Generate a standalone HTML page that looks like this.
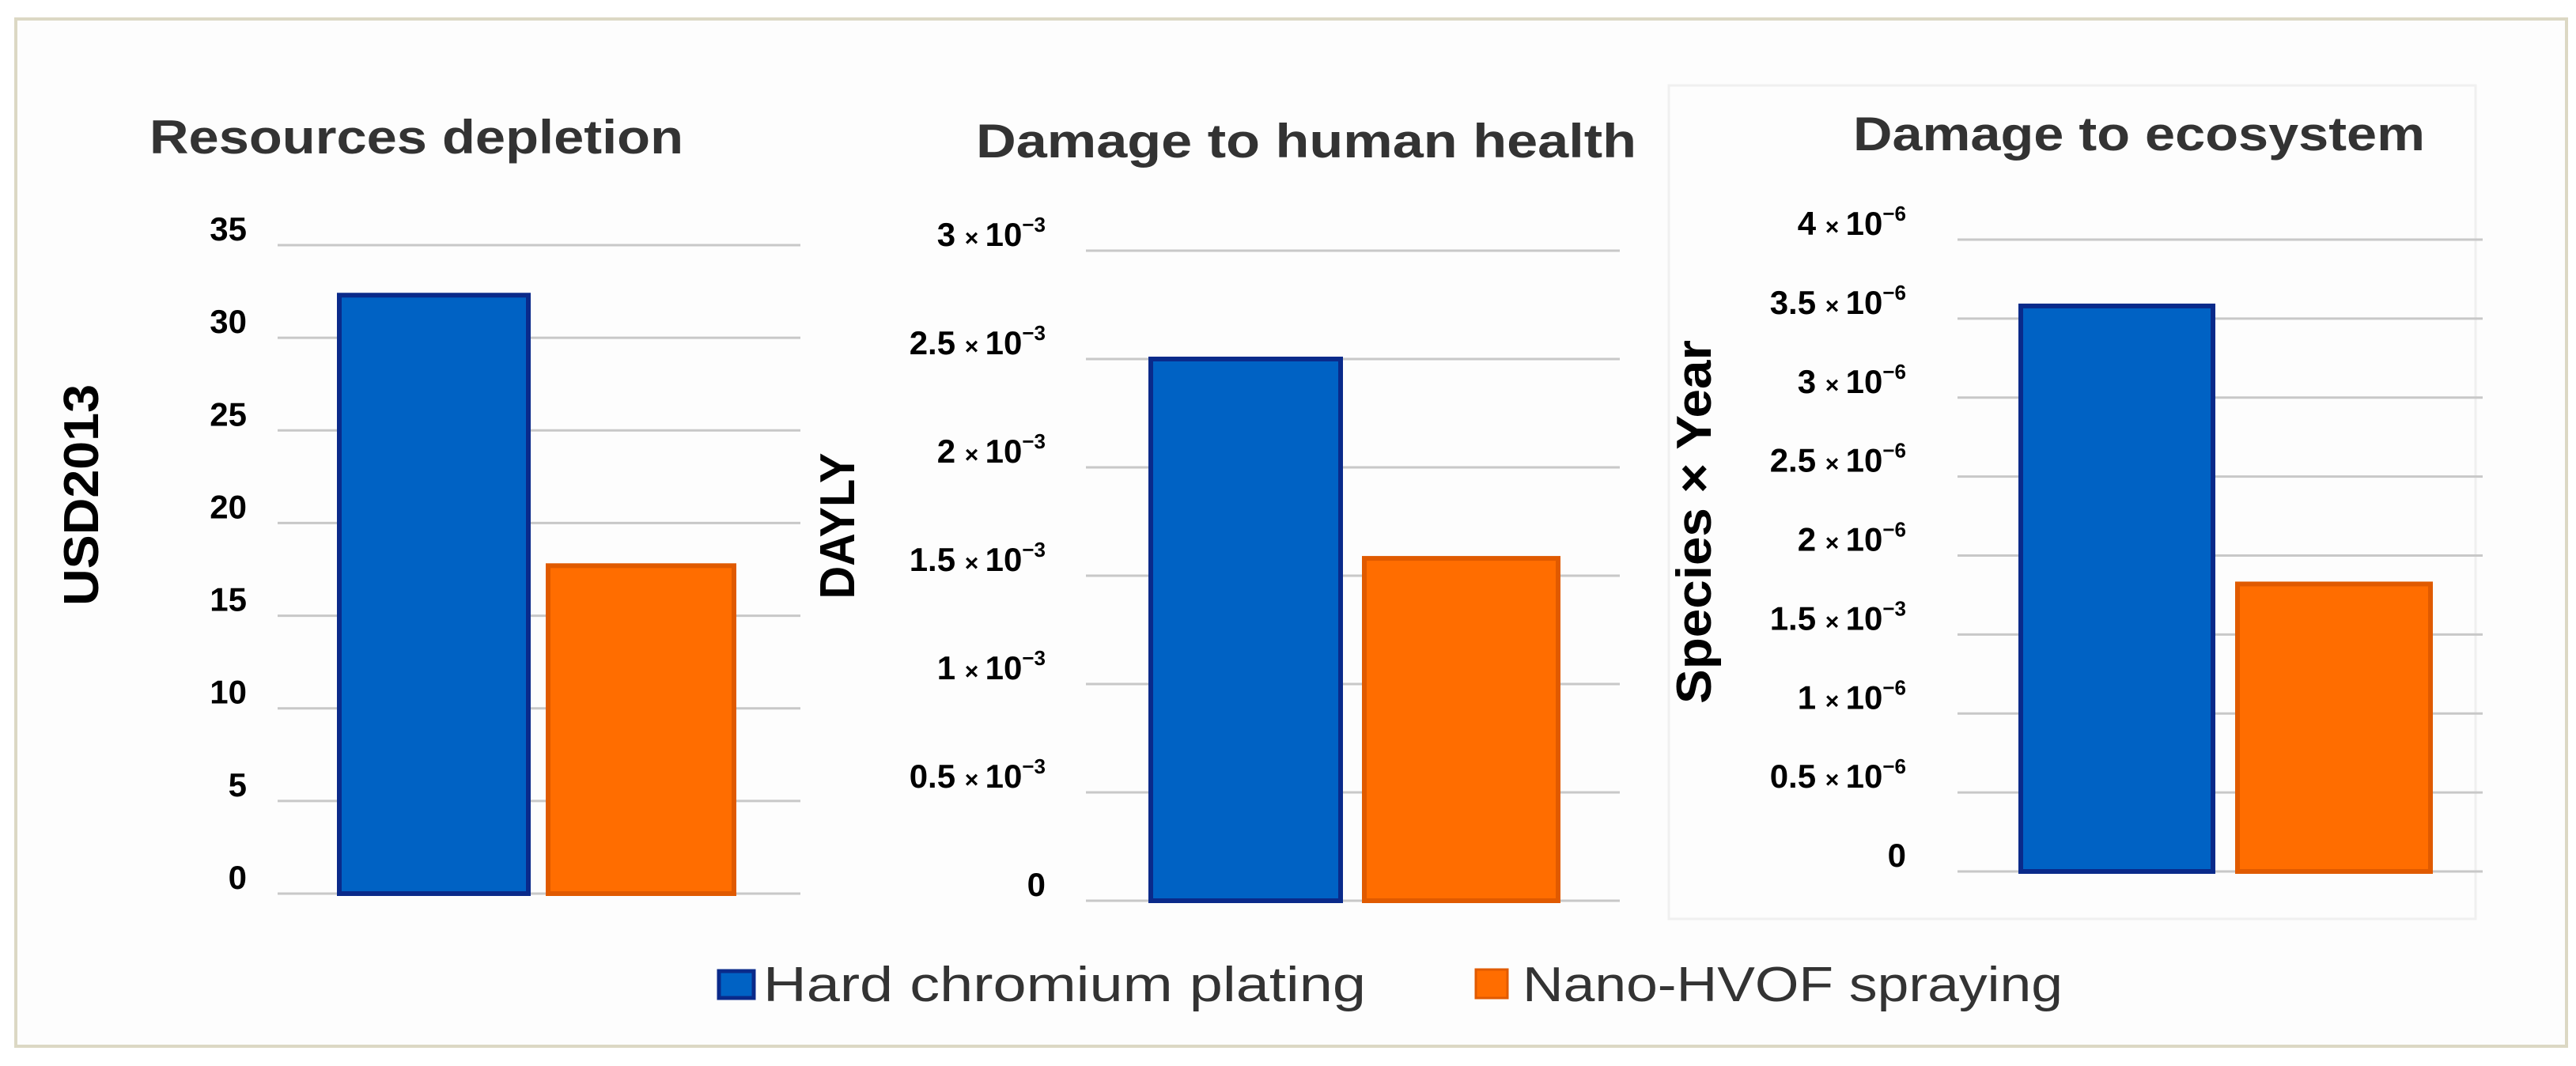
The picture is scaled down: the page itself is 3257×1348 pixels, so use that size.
<!DOCTYPE html>
<html><head><meta charset="utf-8"><style>
html,body{margin:0;padding:0;background:#fff;}
svg{display:block;}
text{font-family:"Liberation Sans",sans-serif;}
</style></head><body>
<svg id="fig" width="3257" height="1348" viewBox="0 0 3257 1348" xmlns="http://www.w3.org/2000/svg">
<rect x="20" y="24" width="3225" height="1299" fill="#fdfdfd" stroke="#dcd8c4" stroke-width="4"/>
<rect x="2110" y="108" width="1020" height="1054" fill="none" stroke="#f0f0f0" stroke-width="3"/>
<g id="charts"></g>
<g>
  <rect x="909" y="1228" width="44" height="34" fill="#0062c4" stroke="#0a2a8a" stroke-width="5"/>
  <text x="965" y="1266" font-size="62" fill="#333" textLength="762" lengthAdjust="spacingAndGlyphs">Hard chromium plating</text>
  <rect x="1866" y="1226" width="40" height="36" fill="#ff6d00" stroke="#e05a00" stroke-width="3"/>
  <text x="1925" y="1266" font-size="62" fill="#333" textLength="683" lengthAdjust="spacingAndGlyphs">Nano-HVOF spraying</text>
</g>
</svg>
<script>
const categories = ["Hard chromium plating", "Nano-HVOF spraying"];
const resourcesValues = [32.3, 17.7];
const humanHealthValues = [2.5, 1.58];
const ecosystemValues = [3.58, 1.82];
const resourcesTicks = [0, 5, 10, 15, 20, 25, 30, 35];
const humanHealthTicks = [0, 0.5, 1, 1.5, 2, 2.5, 3];
const ecosystemTicks = [0, 0.5, 1, 1.5, 2, 2.5, 3, 3.5, 4];
const resourcesTickLabels = ["0","5","10","15","20","25","30","35"];
const humanHealthTickLabels = ["0","0.5|−3","1|−3","1.5|−3","2|−3","2.5|−3","3|−3"];
const ecosystemTickLabels = ["0","0.5|−6","1|−6","1.5|−3","2|−6","2.5|−6","3|−6","3.5|−6","4|−6"];

const NS = "http://www.w3.org/2000/svg";
const root = document.getElementById("charts");
function mk(tag, attrs, parent){const e=document.createElementNS(NS,tag);for(const k in attrs)e.setAttribute(k,attrs[k]);parent.appendChild(e);return e;}

const panels = [
 {key:"resources", title:"Resources depletion", tx:189, ty:194, tlen:675,
  ytitle:"USD2013", ytx:102, yty:626, ytlen:280,
  gx0:351, gx1:1012, y0:1130, yTop:310, max:35, ticks:resourcesTicks, labels:resourcesTickLabels, lx:312,
  vals:resourcesValues, bars:[[429,668],[693,928]]},
 {key:"human-health", title:"Damage to human health", tx:1234, ty:199, tlen:835,
  ytitle:"DAYLY", ytx:1058, yty:665, ytlen:185,
  gx0:1373, gx1:2048, y0:1139, yTop:317, max:3, ticks:humanHealthTicks, labels:humanHealthTickLabels, lx:1322,
  vals:humanHealthValues, bars:[[1455,1695],[1725,1970]]},
 {key:"ecosystem", title:"Damage to ecosystem", tx:2343, ty:190, tlen:723,
  ytitle:"Species × Year", ytx:2141, yty:660, ytlen:460,
  gx0:2475, gx1:3139, y0:1102, yTop:303, max:4, ticks:ecosystemTicks, labels:ecosystemTickLabels, lx:2410,
  vals:ecosystemValues, bars:[[2555,2798],[2829,3073]]}
];
const fills=["#0062c4","#ff6d00"], strokes=["#0a2a8a","#e05a00"];

panels.forEach(p=>{
  const g=mk("g",{},root);
  
  
  const yS=v=>p.y0-(v/p.max)*(p.y0-p.yTop);
  const t=mk("text",{x:p.tx,y:p.ty,"font-size":60,"font-weight":"bold",fill:"#333",textLength:p.tlen,lengthAdjust:"spacingAndGlyphs"},g);
  t.textContent=p.title;
  
  
  const yt=mk("text",{x:0,y:0,"font-size":62,"font-weight":"bold",fill:"#000","text-anchor":"middle",textLength:p.ytlen,lengthAdjust:"spacingAndGlyphs",transform:`translate(${p.ytx+22},${p.yty}) rotate(-90)`},g);
  yt.textContent=p.ytitle;
  
  
  p.ticks.forEach((v,i)=>{
    const y=yS(v);
    const ln=mk("line",{x1:p.gx0,x2:p.gx1,y1:y,y2:y,stroke:"#c8c8c8","stroke-width":3},g);
    
    
    const parts=p.labels[i].split("|");
    const tx=mk("text",{x:p.lx,y:y-6,"font-size":42,"font-weight":"bold",fill:"#000","text-anchor":"end"},g);
    
    
    if(parts.length===1){tx.textContent=parts[0];}
    else{
      const a=mk("tspan",{},tx);a.textContent=parts[0]+" ";
      const b=mk("tspan",{"font-size":30},tx);b.textContent="× ";
      const c=mk("tspan",{},tx);c.textContent="10";
      const d=mk("tspan",{"font-size":26,dy:-18},tx);d.textContent=parts[1];
    }
  });
  p.vals.forEach((v,i)=>{
    const [x0,x1]=p.bars[i];
    const r=mk("rect",{x:x0,y:yS(v),width:x1-x0,height:p.y0-yS(v),fill:fills[i],stroke:strokes[i],"stroke-width":6},g);
    
    
  });
});
</script>
</body></html>
